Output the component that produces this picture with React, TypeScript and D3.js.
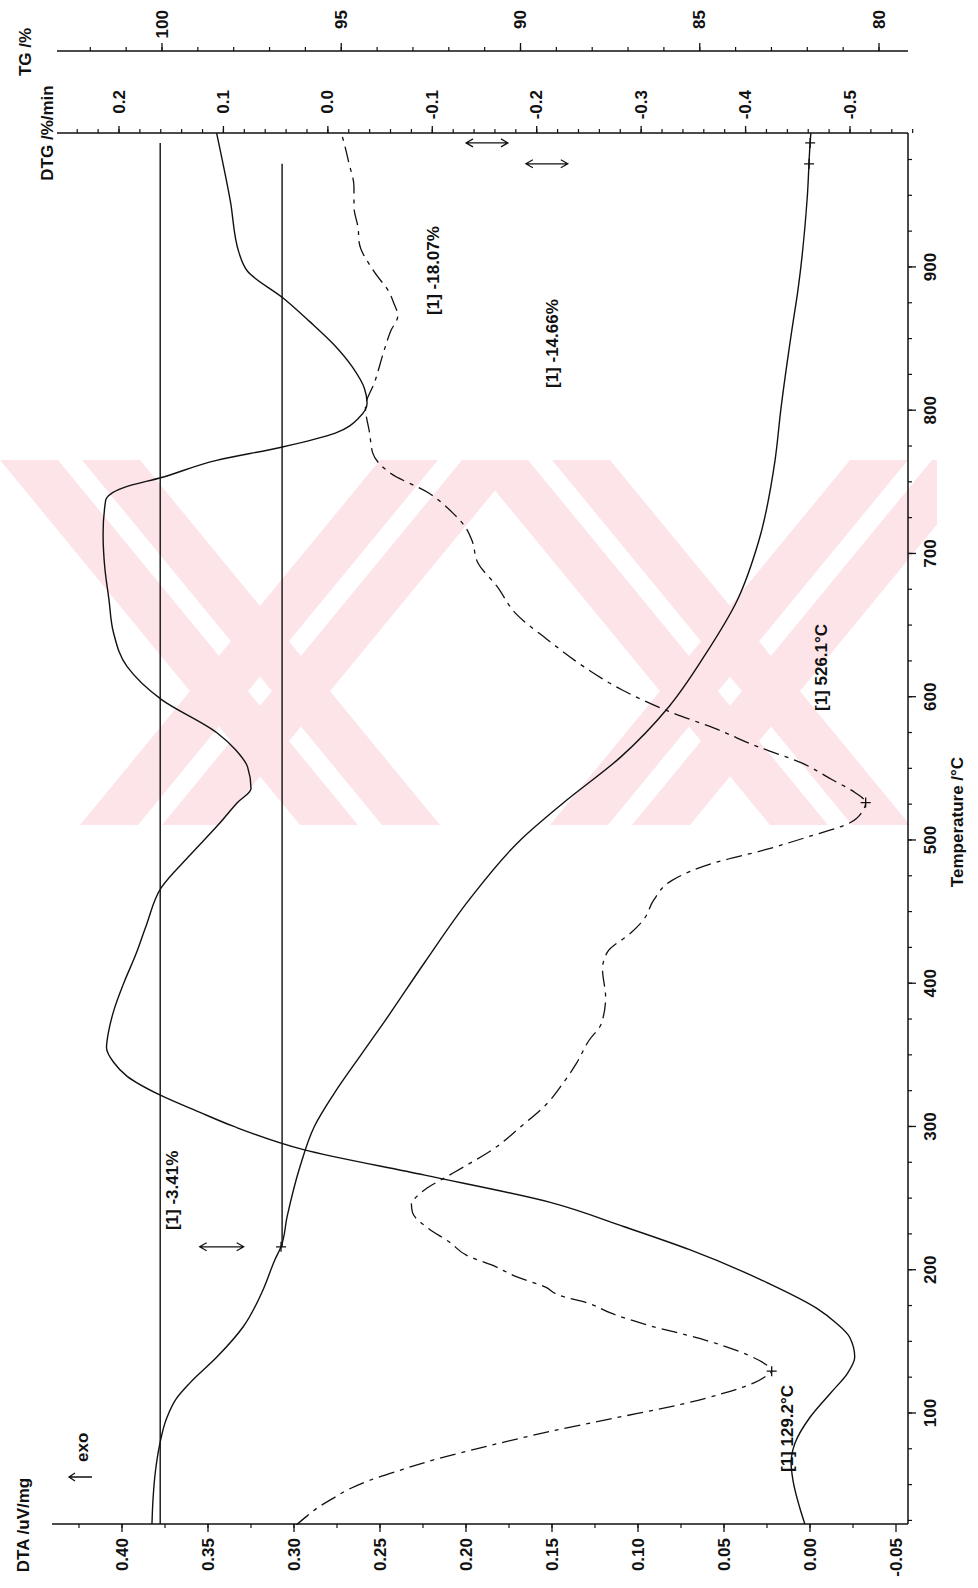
import * as d3 from 'd3'

// temperature (°C) is the vertical axis of this rotated thermogram
const tempTicks = [100, 200, 300, 400, 500, 600, 700, 800, 900]
const dtaTicks = [0.4, 0.35, 0.3, 0.25, 0.2, 0.15, 0.1, 0.05, 0.0, -0.05]
const tgTicks = [100, 95, 90, 85, 80]
const dtgTicks = [0.2, 0.1, 0.0, -0.1, -0.2, -0.3, -0.4, -0.5]

// TG curve (%)
const tgTemp = [22.5, 40, 60, 76, 97, 110, 121, 139, 160, 186, 207, 216, 237, 272, 300, 323, 350, 373, 415, 458, 500, 526, 558, 593, 630, 667, 709, 765, 800, 856, 884, 949, 987, 993.5]
const tgVal = [100.28, 100.25, 100.18, 100.08, 99.86, 99.6, 99.22, 98.47, 97.74, 97.18, 96.85, 96.68, 96.51, 96.15, 95.75, 95.2, 94.45, 93.8, 92.66, 91.44, 90.0, 88.8, 87.2, 85.86, 84.83, 83.96, 83.35, 82.9, 82.74, 82.43, 82.26, 82.0, 81.92, 81.9]

// DTA curve (uV/mg)
const dtaTemp = [22.5, 34, 53, 65, 79, 97, 114, 128, 139, 153, 163, 173, 191, 214, 230, 247, 266, 284, 300, 310, 322, 335, 345, 355, 365, 380, 400, 420, 440, 467, 490, 512, 526, 536, 551, 563, 575, 598, 621, 645, 668, 690, 714, 737, 746, 753, 765, 774, 784, 795, 805, 815, 830, 846, 862, 878, 897, 910, 946, 993.5]
const dtaVal = [0.003, 0.006, 0.0099, 0.011, 0.0087, 0.0, -0.012, -0.022, -0.026, -0.023, -0.015, -0.004, 0.025, 0.07, 0.108, 0.151, 0.224, 0.295, 0.335, 0.355, 0.378, 0.397, 0.405, 0.409, 0.408, 0.405, 0.399, 0.392, 0.386, 0.377, 0.36, 0.343, 0.333, 0.325, 0.327, 0.334, 0.345, 0.377, 0.397, 0.405, 0.4076, 0.41, 0.411, 0.4095, 0.399, 0.377, 0.345, 0.308, 0.276, 0.262, 0.2575, 0.259, 0.266, 0.277, 0.291, 0.306, 0.327, 0.332, 0.337, 0.345]

// DTG curve (%/min)
const dtgTemp = [22, 28, 34, 40, 46, 53, 60, 68, 76, 87, 96.5, 106, 114, 121, 126, 129.2, 133, 140.5, 152, 161, 170, 177, 182, 188, 195, 203, 210, 219, 229, 240, 246, 251, 257, 265, 273, 284, 300, 316, 330, 344, 360, 372, 390, 410, 422, 435, 445, 458, 472, 484, 493, 502, 512, 520, 526.1, 533, 542, 554, 565, 578, 589, 605, 621, 640, 658, 677, 693, 709, 718, 728, 742, 756, 770, 784, 802, 820, 842, 855, 866, 875, 882, 896, 917, 927, 942, 956, 973, 988, 993]
const dtgVal = [0.03, 0.02, 0.0096, -0.004, -0.018, -0.04, -0.069, -0.105, -0.148, -0.212, -0.275, -0.338, -0.38, -0.408, -0.42, -0.425, -0.421, -0.402, -0.356, -0.308, -0.27, -0.248, -0.222, -0.208, -0.181, -0.158, -0.133, -0.117, -0.096, -0.081, -0.08, -0.085, -0.095, -0.114, -0.133, -0.158, -0.185, -0.21, -0.225, -0.238, -0.25, -0.262, -0.266, -0.263, -0.268, -0.29, -0.303, -0.312, -0.33, -0.37, -0.418, -0.459, -0.5, -0.512, -0.515, -0.505, -0.483, -0.453, -0.412, -0.37, -0.329, -0.281, -0.245, -0.21, -0.18, -0.162, -0.144, -0.138, -0.132, -0.12, -0.097, -0.06, -0.043, -0.04, -0.036, -0.045, -0.054, -0.06, -0.067, -0.063, -0.059, -0.045, -0.03, -0.029, -0.025, -0.025, -0.02, -0.015, -0.013]

// mass-loss step lines (TG level, from T, to T)
const stepLevel = [100.05, 96.65]
const stepFrom = [22.5, 216]
const stepTo = [986.6, 972]

// markers
const tgMarkT = [216, 986.6, 972]
const tgMarkV = [96.68, 81.92, 81.95]
const dtgMarkT = [129.2, 526.1]
const dtgMarkV = [-0.425, -0.515]

// double arrows (T, TG from, TG to)
const arrowT = [216, 986.6, 972]
const arrowFrom = [98.95, 91.52, 89.85]
const arrowTo = [97.72, 90.35, 88.68]

const W = 978
const H = 1588
const FONT = 'Liberation Sans, Arial, Helvetica, sans-serif'

const App = () => {
    const left = 55
    const right = 908
    const top = 133
    const bottom = 1524
    const tgAxisY = 51

    const y = d3.scaleLinear().domain([22.5, 993.5]).range([bottom, top])
    const xDTA = d3.scaleLinear().domain([0.4, -0.05]).range([122, 896])
    const xTG = d3.scaleLinear().domain([100, 80]).range([162, 879])
    const xDTG = d3.scaleLinear().domain([0.2, -0.5]).range([119, 850])

    const mk = (xs: any, ts: number[], vs: number[]) =>
        d3.line<number>()
            .x((_, i) => xs(vs[i]))
            .y(t => y(t))
            .curve(d3.curveMonotoneY)(ts) as string

    const tgPath = mk(xTG, tgTemp, tgVal)
    const dtaPath = mk(xDTA, dtaTemp, dtaVal)
    const dtgPath = mk(xDTG, dtgTemp, dtgVal)

    const minorTemp = d3.range(25, 1000, 25)
    const minorDTA = d3.range(0, 19).map(i => 0.425 - i * 0.025)
    const minorTG = d3.range(102, 79, -1)
    const minorDTG = d3.range(0, 41).map(i => 0.24 - i * 0.02)

    const txt = { fontFamily: FONT, fontWeight: 700, fontSize: 17, fill: '#111' } as const
    const rot = (x: number, yy: number, s: string, anchor: string, key?: any) => (
        <text key={key ?? s} transform={`translate(${x},${yy}) rotate(-90)`} textAnchor={anchor}
            dominantBaseline="central" {...txt}>{s}</text>
    )

    // watermark stripes
    const wmTop = 460
    const wmBot = 825
    const stripes: string[] = []
    ;[0, 470].forEach(off => {
        ;[0, 82].forEach(s => {
            const a = off + s
            stripes.push(`${a},${wmTop} ${a + 58},${wmTop} ${a + 58 + 300},${wmBot} ${a + 300},${wmBot}`)
        })
        ;[380, 462].forEach(s => {
            const a = off + s
            stripes.push(`${a},${wmTop} ${a + 58},${wmTop} ${a + 58 - 300},${wmBot} ${a - 300},${wmBot}`)
        })
    })

    const dblArrow = (x1: number, x2: number, yy: number, k: number) => (
        <path key={k} d={`M${x1},${yy}L${x2},${yy}M${x1 + 7},${yy - 4}L${x1},${yy}L${x1 + 7},${yy + 4}M${x2 - 7},${yy - 4}L${x2},${yy}L${x2 - 7},${yy + 4}`}
            fill="none" stroke="#111" strokeWidth={1.2} />
    )
    const cross = (cx: number, cy: number, k: any) => (
        <path key={k} d={`M${cx - 5},${cy}L${cx + 5},${cy}M${cx},${cy - 5}L${cx},${cy + 5}`} stroke="#111" strokeWidth={1.3} />
    )

    return (
        <svg width={W} height={H} style={{ position: 'absolute', left: 0, top: 0, display: 'block', background: '#fff' }}>
            <defs>
                <clipPath id="wm">
                    <rect x={0} y={wmTop} width={937} height={wmBot - wmTop} />
                </clipPath>
            </defs>
            <g clipPath="url(#wm)">
                {stripes.map((p, i) => <polygon key={i} points={p} fill="#fde4e9" />)}
            </g>

            {/* TG axis (top) */}
            <line x1={left + 2} x2={right} y1={tgAxisY} y2={tgAxisY} stroke="#111" strokeWidth={1.5} />
            {minorTG.map(v => <line key={'tm' + v} x1={xTG(v)} x2={xTG(v)} y1={tgAxisY} y2={tgAxisY - 4} stroke="#111" strokeWidth={1.2} />)}
            {tgTicks.map(v => <line key={'tM' + v} x1={xTG(v)} x2={xTG(v)} y1={tgAxisY} y2={tgAxisY - 8} stroke="#111" strokeWidth={1.3} />)}
            {tgTicks.map(v => rot(xTG(v), 10, String(v), 'end', 'tl' + v))}

            {/* DTG axis (top frame) */}
            <line x1={left + 2} x2={right} y1={top} y2={top} stroke="#111" strokeWidth={1.5} />
            {minorDTG.map((v, i) => <line key={'gm' + i} x1={xDTG(v)} x2={xDTG(v)} y1={top} y2={top - 4} stroke="#111" strokeWidth={1.2} />)}
            {dtgTicks.map(v => <line key={'gM' + v} x1={xDTG(v)} x2={xDTG(v)} y1={top} y2={top - 7} stroke="#111" strokeWidth={1.3} />)}
            {dtgTicks.map(v => rot(xDTG(v), 90, d3.format('.1f')(v).replace('−', '-'), 'end', 'gl' + v))}

            {/* DTA axis (bottom) */}
            <line x1={52} x2={right} y1={bottom} y2={bottom} stroke="#111" strokeWidth={1.5} />
            {minorDTA.map((v, i) => <line key={'am' + i} x1={xDTA(v)} x2={xDTA(v)} y1={bottom} y2={bottom + 4} stroke="#111" strokeWidth={1.2} />)}
            {dtaTicks.map(v => <line key={'aM' + v} x1={xDTA(v)} x2={xDTA(v)} y1={bottom} y2={bottom + 8} stroke="#111" strokeWidth={1.3} />)}
            {dtaTicks.map(v => rot(xDTA(v), 1538, d3.format('.2f')(v).replace('−', '-'), 'end', 'al' + v))}

            {/* Temperature axis (right) */}
            <line x1={right} x2={right} y1={top} y2={bottom} stroke="#111" strokeWidth={1.5} />
            {minorTemp.map(t => <line key={'Tm' + t} x1={right} x2={right + 4} y1={y(t)} y2={y(t)} stroke="#111" strokeWidth={1.2} />)}
            {tempTicks.map(t => <line key={'TM' + t} x1={right} x2={right + 8} y1={y(t)} y2={y(t)} stroke="#111" strokeWidth={1.3} />)}
            {tempTicks.map(t => rot(930, y(t), String(t), 'middle', 'Tl' + t))}

            {/* axis titles */}
            {rot(25, 52, 'TG /%', 'middle')}
            {rot(47, 133, 'DTG /%/min', 'middle')}
            {rot(23, 1525, 'DTA /uV/mg', 'middle')}
            {rot(957, 822, 'Temperature /°C', 'middle')}
            <path d="M69,1477L92,1477M75,1473L69,1477L75,1481" fill="none" stroke="#111" strokeWidth={1.3} />
            {rot(82, 1462, 'exo', 'start')}

            {/* step lines */}
            {stepLevel.map((v, i) => (
                <line key={'s' + i} x1={xTG(v)} x2={xTG(v)} y1={y(stepFrom[i])} y2={y(stepTo[i])} stroke="#111" strokeWidth={1.4} />
            ))}

            {/* curves */}
            <path d={tgPath} fill="none" stroke="#111" strokeWidth={1.4} />
            <path d={dtaPath} fill="none" stroke="#111" strokeWidth={1.4} />
            <path d={dtgPath} fill="none" stroke="#111" strokeWidth={1.3} strokeDasharray="16 6 4 6" />

            {/* markers */}
            {tgMarkT.map((t, i) => cross(xTG(tgMarkV[i]), y(t), 'tc' + i))}
            {dtgMarkT.map((t, i) => cross(xDTG(dtgMarkV[i]), y(t), 'gc' + i))}
            {arrowT.map((t, i) => dblArrow(xTG(arrowFrom[i]), xTG(arrowTo[i]), y(t), i))}

            {/* annotations */}
            {rot(xTG(99.72), y(227.7), '[1] -3.41%', 'start')}
            {rot(xTG(92.44), y(866.5), '[1] -18.07%', 'start')}
            {rot(xTG(89.1), y(815.5), '[1] -14.66%', 'start')}
            {rot(xDTG(-0.473), y(590), '[1] 526.1°C', 'start')}
            {rot(xDTG(-0.44), y(58.8), '[1] 129.2°C', 'start')}
        </svg>
    )
}

export default App
